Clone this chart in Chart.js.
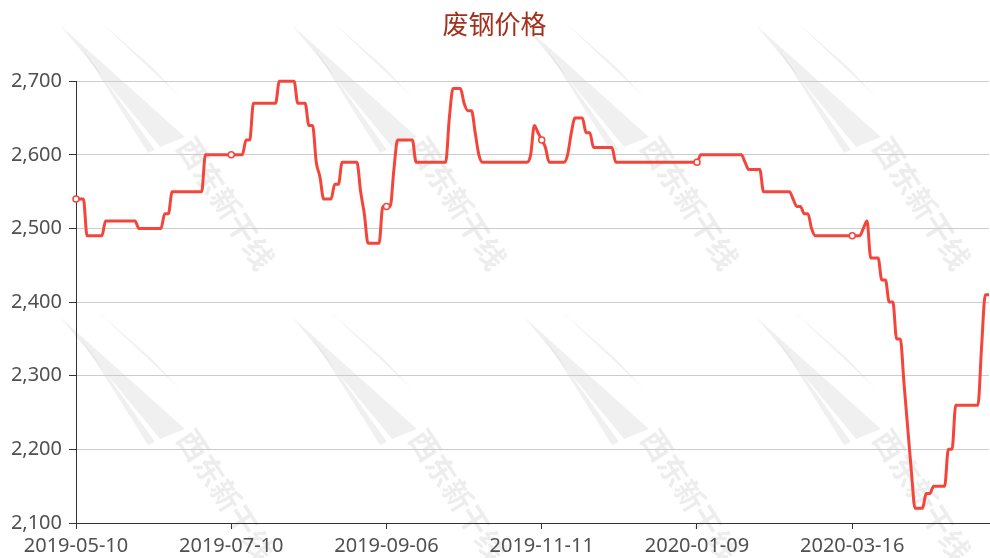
<!DOCTYPE html>
<html>
<head>
<meta charset="utf-8">
<script src="https://cdn.jsdelivr.net/npm/chart.js@4.4.1/dist/chart.umd.min.js"></script>
<style>
    body { margin: 0; background: #fff; }
</style>
</head>
<body>
<canvas id="grafico_preco" width="990" height="558"></canvas>
<script>
    const titulo = '废钢价格';
    const rotulos_eixo = ['2019-05-10', '2019-07-10', '2019-09-06', '2019-11-11', '2020-01-09', '2020-03-16'];
    const passo_rotulo = 42;

    // preco diario (yuan/t)
    const valores_preco = [
        2540,2540,2540,2490,2490,2490,2490,2490,2510,2510,
        2510,2510,2510,2510,2510,2510,2510,2500,2500,2500,
        2500,2500,2500,2500,2520,2520,2550,2550,2550,2550,
        2550,2550,2550,2550,2550,2600,2600,2600,2600,2600,
        2600,2600,2600,2600,2600,2600,2620,2620,2670,2670,
        2670,2670,2670,2670,2670,2700,2700,2700,2700,2700,
        2670,2670,2670,2640,2640,2590,2570,2540,2540,2540,
        2560,2560,2590,2590,2590,2590,2590,2550,2520,2480,
        2480,2480,2480,2530,2530,2530,2580,2620,2620,2620,
        2620,2620,2590,2590,2590,2590,2590,2590,2590,2590,
        2590,2650,2690,2690,2690,2670,2660,2660,2630,2600,
        2590,2590,2590,2590,2590,2590,2590,2590,2590,2590,
        2590,2590,2590,2600,2640,2630,2620,2610,2590,2590,
        2590,2590,2590,2600,2630,2650,2650,2650,2630,2630,
        2610,2610,2610,2610,2610,2610,2590,2590,2590,2590,
        2590,2590,2590,2590,2590,2590,2590,2590,2590,2590,
        2590,2590,2590,2590,2590,2590,2590,2590,2590,2600,
        2600,2600,2600,2600,2600,2600,2600,2600,2600,2600,
        2600,2590,2580,2580,2580,2580,2550,2550,2550,2550,
        2550,2550,2550,2550,2540,2530,2530,2520,2520,2500,
        2490,2490,2490,2490,2490,2490,2490,2490,2490,2490,
        2490,2490,2490,2500,2510,2460,2460,2460,2430,2430,
        2400,2400,2350,2350,2290,2230,2170,2120,2120,2120,
        2140,2140,2150,2150,2150,2150,2200,2200,2260,2260,
        2260,2260,2260,2260,2260,2340,2410,2410
    ];

    const categorias = valores_preco.map((v, i) => i % passo_rotulo === 0 ? rotulos_eixo[i / passo_rotulo] : '');

    const cor_linha = '#f4453b';
    const fonte_eixo = { family: '"Noto Sans", sans-serif', size: 20 };

    function desenharLogo(c, ox, oy) {
        c.save();
        c.translate(ox, oy);
        c.fillStyle = 'rgba(0,0,0,0.06)';
        c.beginPath();
        c.moveTo(0, 0);
        c.lineTo(125, 112);
        c.lineTo(100, 122);
        c.closePath();
        c.fill();
        c.beginPath();
        c.moveTo(35, -8);
        c.lineTo(120, 72);
        c.lineTo(92, 42);
        c.closePath();
        c.fill();
        c.beginPath();
        c.moveTo(20, 20);
        c.lineTo(95, 125);
        c.lineTo(88, 128);
        c.closePath();
        c.fill();
        c.rotate(57 * Math.PI / 180);
        c.font = 'bold 30px "Noto Sans CJK SC"';
        c.textBaseline = 'middle';
        c.fillStyle = 'rgba(0,0,0,0.07)';
        c.fillText('西东新干线', 165, -42);
        c.restore();
    }

    const marcaDagua = {
        id: 'marcaDagua',
        beforeDraw(chart) {
            const c = chart.ctx;
            c.save();
            c.fillStyle = '#fff';
            c.fillRect(0, 0, chart.width, chart.height);
            for (let linha = 0; linha < 2; linha++) {
                for (let col = 0; col < 5; col++) {
                    desenharLogo(c, 60 + col * 232, 25 + linha * 292);
                }
            }
            c.restore();
        }
    };

    const ctx_preco = document.getElementById('grafico_preco');

    new Chart(ctx_preco, {
        type: 'line',
        data: {
            labels: categorias,
            datasets: [{
                label: titulo,
                data: valores_preco,
                borderColor: cor_linha,
                borderWidth: 3,
                cubicInterpolationMode: 'monotone',
                fill: false,
                clip: false,
                pointRadius: c => c.dataIndex % passo_rotulo === 0 ? 3 : 0,
                pointBackgroundColor: '#fff',
                pointBorderColor: cor_linha,
                pointBorderWidth: 1.5
            }]
        },
        options: {
            responsive: false,
            animation: false,
            layout: { autoPadding: false, padding: { right: 1 } },
            plugins: {
                legend: { display: false },
                tooltip: { enabled: false },
                title: {
                    display: true,
                    text: titulo,
                    color: '#a3301b',
                    font: { family: '"Noto Sans CJK SC"', size: 26, weight: 'normal' },
                    padding: { top: 9, bottom: 41 }
                }
            },
            scales: {
                x: {
                    afterFit: s => { s.height = 35; s.paddingRight = 0; },
                    grid: {
                        drawOnChartArea: false,
                        tickLength: 6,
                        tickColor: c => c.index % passo_rotulo === 0 ? '#333' : 'rgba(0,0,0,0)'
                    },
                    border: { color: '#333' },
                    ticks: {
                        autoSkip: false,
                        minRotation: 0,
                        maxRotation: 0,
                        padding: 5,
                        color: '#505050',
                        font: fonte_eixo
                    }
                },
                y: {
                    min: 2100,
                    max: 2700,
                    afterFit: s => { s.width = 76; },
                    grid: { color: '#cccccc', tickLength: 7, tickColor: '#333' },
                    border: { color: '#333' },
                    ticks: {
                        stepSize: 100,
                        padding: 7,
                        color: '#505050',
                        font: fonte_eixo,
                        callback: v => v.toLocaleString('en-US')
                    }
                }
            }
        },
        plugins: [marcaDagua]
    });
</script>
</body>
</html>
